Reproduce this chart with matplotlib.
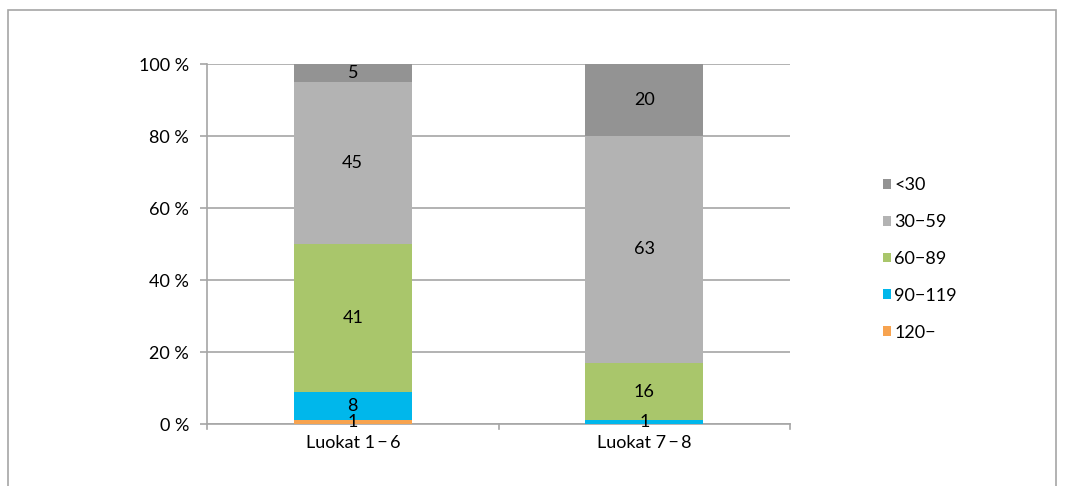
import matplotlib.pyplot as plt
from matplotlib.patches import Rectangle
import numpy as np

plt.rcParams['font.family'] = ['Lato', 'DejaVu Sans']

categories = ['Luokat 1\u2009\u2212\u20096', 'Luokat 7\u2009\u2212\u20098']
series_names = ['120\u2212', '90\u2212119', '60\u221289', '30\u221259', '<30']
v_120 = [1, 0]
v_90_119 = [8, 1]
v_60_89 = [41, 16]
v_30_59 = [45, 63]
v_lt30 = [5, 20]
colors = ['#f7a34f', '#00b7eb', '#a9c66b', '#b3b3b3', '#939393']

fs = 13

fig = plt.figure(figsize=(10.65, 4.86), dpi=100)
# outer chart frame
fig.patches.append(Rectangle((8 / 1065, -0.1), 1048 / 1065, 1.1 - 10 / 486,
                             transform=fig.transFigure, fill=False,
                             edgecolor='#a6a6a6', linewidth=1.2))

ax = fig.add_axes([207 / 1065, 1 - 424 / 486, 583 / 1065, 360 / 486])

x = np.arange(len(categories))
data = [v_120, v_90_119, v_60_89, v_30_59, v_lt30]
bottom = np.zeros(len(categories))
handles = []
for name, vals, col in zip(series_names, data, colors):
    vals = np.array(vals, dtype=float)
    b = ax.bar(x, vals, bottom=bottom, width=0.405, color=col, label=name, zorder=3)
    handles.append(b)
    for xi, v, bt in zip(x, vals, bottom):
        if v > 0:
            ax.text(xi, bt + v / 2, f'{int(v)}', ha='center', va='center',
                    fontsize=fs, color='black', zorder=4)
    bottom += vals

ax.set_xlim(-0.5, 1.5)
ax.set_ylim(0, 100)
ax.set_yticks(np.arange(0, 101, 20))
ax.set_yticklabels([f'{t} %' for t in range(0, 101, 20)], fontsize=fs)
ax.set_xticks(x)
ax.set_xticklabels(categories, fontsize=fs)
ax.tick_params(axis='x', length=0, pad=8)
ax.tick_params(axis='y', length=5, color='#a6a6a6', width=1.2, pad=8)
# category separator ticks on x axis
for xt in [-0.5, 0.5, 1.5]:
    ax.plot([xt, xt], [0, -1.4], color='#a6a6a6', lw=1.2, clip_on=False, zorder=2)

ax.grid(axis='y', color='#a6a6a6', linewidth=1.2, zorder=0)
for s in ['top', 'right']:
    ax.spines[s].set_visible(False)
ax.spines['left'].set_color('#a6a6a6')
ax.spines['bottom'].set_color('#a6a6a6')
ax.spines['left'].set_linewidth(1.2)
ax.spines['bottom'].set_linewidth(1.2)

leg = fig.legend(handles[::-1], series_names[::-1], loc='center left',
                 bbox_to_anchor=(867 / 1065, 1 - 259 / 486), frameon=False,
                 fontsize=fs, handlelength=0.45, handleheight=0.45,
                 handletextpad=0.15, labelspacing=1.15)

fig.savefig('out.png', dpi=100)
